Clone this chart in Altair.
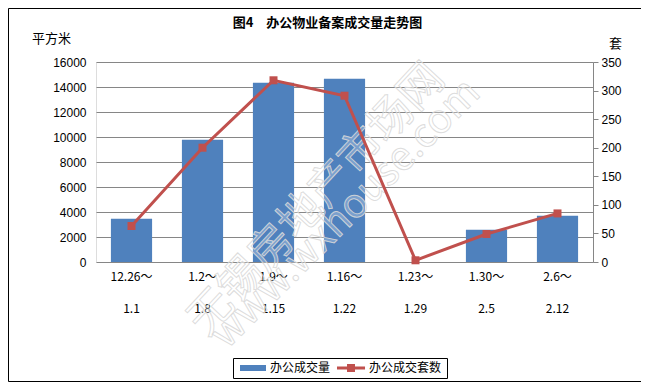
import altair as alt
import pandas as pd

# ---- data ----
period_start = ["12.26～", "1.2～", "1.9～", "1.16～", "1.23～", "1.30～", "2.6～"]
period_end = ["1.1", "1.8", "1.15", "1.22", "1.29", "2.5", "2.12"]
office_area = [3470, 9790, 14340, 14660, 0, 2590, 3710]      # 办公成交量 (平方米)
office_units = [63, 200, 318, 291, 3, 49, 85]                # 办公成交套数 (套)
series_names = ["办公成交量", "办公成交套数"]
series_colors = ["#4F81BD", "#C0504D"]
title_text = "图4　办公物业备案成交量走势图"
left_unit = "平方米"
right_unit = "套"
watermark_cn = "无锡房地产市场网"
watermark_en = "www.wxhouse.com"

labels = [f"{a}|{b}" for a, b in zip(period_start, period_end)]
df = pd.DataFrame({
    "period": labels,
    "area": office_area,
    "units": office_units,
    "s_area": series_names[0],
    "s_units": series_names[1],
})
one = pd.DataFrame({"k": [0]})

CJK = "Noto Sans CJK SC"
NUM = "Liberation Sans"
GRID = "#868686"

bar_path = "M-1,-0.5H3.33V0.5H-1Z"
line_path = "M-1,-0.25H3.67V0.25H-1Z M0.67,-0.67H2V0.67H0.67Z"

def make_legend(x, path, offset):
    return alt.Legend(
        title=None, orient="none", legendX=x, legendY=300, direction="horizontal",
        padding=0, labelFont=CJK, labelFontSize=12, labelColor="black",
        symbolSize=144, symbolStrokeWidth=0, symbolType=path, symbolOpacity=1,
        labelOffset=offset,
    )

x_enc = alt.X(
    "period:N", sort=labels, title=None,
    scale=alt.Scale(paddingInner=0.42, paddingOuter=0.21),
    axis=alt.Axis(labelExpr="split(datum.label, '|')", labelAngle=0, ticks=False, domain=False,
                  labelPadding=9, labelLineHeight=32, labelFont=CJK, labelFontSize=12,
                  labelColor="black", labelBaseline="top"),
)

bars = alt.Chart(df).mark_bar().encode(
    x=x_enc,
    y=alt.Y("area:Q", scale=alt.Scale(domain=[0, 16000]),
            axis=alt.Axis(title=left_unit, titleAngle=0, titleX=-45, titleY=-24,
                          titleAlign="center", titleBaseline="middle", titleFont=CJK,
                          titleFontSize=13, titleFontWeight="normal", titleColor="black",
                          grid=True, gridColor=GRID, domain=False, ticks=False, format="d",
                          labelPadding=10, values=list(range(0, 16001, 2000)),
                          labelFont=NUM, labelFontSize=12, labelColor="black")),
    color=alt.Color("s_area:N", scale=alt.Scale(domain=series_names[:1], range=series_colors[:1]),
                    legend=make_legend(144, bar_path, 18)),
)

wm_style = dict(font=CJK, fill="white", fillOpacity=0.25, stroke="#d9d9d9",
                strokeWidth=1, strokeOpacity=0.9)
watermark = alt.layer(
    alt.Chart(one).mark_text(text=watermark_cn, fontSize=44, angle=313, **wm_style).encode(
        x=alt.value(221), y=alt.value(138)),
    alt.Chart(one).mark_text(text=watermark_en, fontSize=40, angle=315, **wm_style).encode(
        x=alt.value(250), y=alt.value(152)),
)

y_right = alt.Y("units:Q", scale=alt.Scale(domain=[0, 350]),
                axis=alt.Axis(orient="right", title=right_unit, titleAngle=0, titleX=22, titleY=-19,
                              titleAlign="center", titleBaseline="middle", titleFont=CJK,
                              titleFontSize=13, titleFontWeight="normal", titleColor="black",
                              grid=False, domain=True, domainColor=GRID, ticks=True,
                              tickColor=GRID, tickSize=5, labelPadding=3, format="d",
                              values=list(range(0, 351, 50)), labelFont=NUM,
                              labelFontSize=12, labelColor="black"))

line_color = alt.Color("s_units:N", scale=alt.Scale(domain=series_names[1:], range=series_colors[1:]),
                       legend=make_legend(241, line_path, 20))
line = alt.Chart(df).mark_line(strokeWidth=3).encode(x=x_enc, y=y_right, color=line_color)
pts = alt.Chart(df).mark_point(shape="square", filled=True, size=64, opacity=1).encode(
    x=x_enc, y=y_right, color=line_color)
line_layer = alt.layer(line, pts)

legend_box = alt.Chart(one).mark_rect(fillOpacity=0, stroke="black", strokeWidth=1).encode(
    x=alt.value(137.5), x2=alt.value(351.5), y=alt.value(296.5), y2=alt.value(316.5))
frame = alt.Chart(one).mark_rect(fillOpacity=0, stroke="black", strokeWidth=1).encode(
    x=alt.value(-87.5), x2=alt.value(551.5), y=alt.value(-53.5), y2=alt.value(319.5))

chart = alt.layer(bars, watermark, line_layer, legend_box, frame).resolve_scale(
    y="independent", color="independent"
).properties(
    width=497, height=200,
    title=alt.TitleParams(title_text, font=CJK, fontSize=13, fontWeight="bold", anchor="middle",
                          dx=-17, offset=-22, color="black"),
    autosize=alt.AutoSizeParams(type="none"),
    padding={"left": 88, "top": 54, "right": 48, "bottom": 121},
).configure_view(strokeWidth=0).configure(background="white")

chart.save("out.html", embed_options={"renderer": "svg", "actions": False})
